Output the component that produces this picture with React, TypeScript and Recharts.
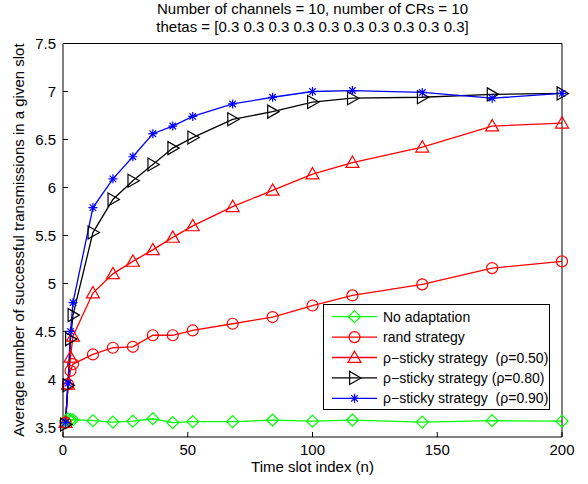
import React from 'react'
import { LineChart, Line, XAxis, YAxis, Legend } from 'recharts'

// Time slot indices shared by every series.
const slots = [1, 2, 3, 4, 12, 20, 28, 36, 44, 52, 68, 84, 100, 116, 144, 172, 200]

const noAdapt = [3.57, 3.59, 3.58, 3.58, 3.57, 3.555, 3.565, 3.59, 3.55, 3.56, 3.56, 3.575, 3.565, 3.575, 3.555, 3.57, 3.565]
const randStrat = [3.55, 3.95, 4.09, 4.16, 4.26, 4.33, 4.34, 4.46, 4.46, 4.51, 4.58, 4.65, 4.77, 4.875, 4.99, 5.16, 5.23]
const sticky50 = [3.55, 3.95, 4.23, 4.45, 4.9, 5.1, 5.23, 5.35, 5.48, 5.6, 5.8, 5.97, 6.14, 6.26, 6.42, 6.64, 6.67]
const sticky80 = [3.53, 3.94, 4.42, 4.67, 5.53, 5.875, 6.07, 6.24, 6.41, 6.52, 6.71, 6.79, 6.89, 6.93, 6.94, 6.97, 6.98]
const sticky90 = [3.55, 3.96, 4.5, 4.8, 5.79, 6.09, 6.32, 6.56, 6.64, 6.74, 6.87, 6.94, 7.0, 7.01, 6.99, 6.93, 6.98]

const xTicks = [0, 50, 100, 150, 200]
const yTicks = [3.5, 4, 4.5, 5, 5.5, 6, 6.5, 7, 7.5]

const FONT = '"Liberation Sans", Arial, Helvetica, sans-serif'

type Shape = 'diamond' | 'circle' | 'triangle' | 'right' | 'star'

function marker(shape: Shape, cx: number, cy: number, color: string, key?: React.Key) {
  const common = { fill: 'none', stroke: color, strokeWidth: 1.2 }
  switch (shape) {
    case 'diamond': {
      const s = 6
      return <path key={key} d={`M${cx},${cy - s}L${cx + s},${cy}L${cx},${cy + s}L${cx - s},${cy}Z`} {...common} />
    }
    case 'circle':
      return <circle key={key} cx={cx} cy={cy} r={5.5} {...common} />
    case 'triangle': {
      const s = 6.5
      return <path key={key} d={`M${cx},${cy - s}L${cx + s},${cy + s * 0.75}L${cx - s},${cy + s * 0.75}Z`} {...common} />
    }
    case 'right': {
      const s = 6.5
      return <path key={key} d={`M${cx + s},${cy}L${cx - s * 0.75},${cy - s}L${cx - s * 0.75},${cy + s}Z`} {...common} />
    }
    case 'star': {
      const s = 4.5
      const d = s * 0.72
      return (
        <path
          key={key}
          d={`M${cx - s},${cy}L${cx + s},${cy}M${cx},${cy - s}L${cx},${cy + s}M${cx - d},${cy - d}L${cx + d},${cy + d}M${cx - d},${cy + d}L${cx + d},${cy - d}`}
          fill="none"
          stroke={color}
          strokeWidth={1.2}
        />
      )
    }
  }
}

type SeriesDef = { key: string; label: string; color: string; shape: Shape; values: number[] }

const SERIES: SeriesDef[] = [
  { key: 'none', label: 'No adaptation', color: '#00ff00', shape: 'diamond', values: noAdapt },
  { key: 'rand', label: 'rand strategy', color: '#ff0000', shape: 'circle', values: randStrat },
  { key: 's50', label: 'ρ\u2212sticky strategy  (ρ=0.50)', color: '#ff0000', shape: 'triangle', values: sticky50 },
  { key: 's80', label: 'ρ\u2212sticky strategy (ρ=0.80)', color: '#000000', shape: 'right', values: sticky80 },
  { key: 's90', label: 'ρ\u2212sticky strategy  (ρ=0.90)', color: '#0000ff', shape: 'star', values: sticky90 },
]

const data = slots.map((x, i) => {
  const row: Record<string, number> = { x }
  for (const s of SERIES) row[s.key] = s.values[i]
  return row
})

function LegendBox() {
  const w = 227
  const h = 106
  return (
    <svg width={w} height={h} style={{ display: 'block' }}>
      <rect x={0.5} y={0.5} width={w - 1} height={h - 1} fill="#fff" stroke="#000" strokeWidth={1} />
      {SERIES.map((s, i) => {
        const y = 12.7 + i * 20.4
        return (
          <g key={s.key}>
            <line x1={9} x2={54} y1={y} y2={y} stroke={s.color} strokeWidth={1.3} />
            {marker(s.shape, 31.5, y, s.color)}
            <text
              x={60} y={y} dominantBaseline="central" fontSize={14} fontFamily={FONT} fill="#000"
              style={{ whiteSpace: 'pre' }}
            >
              {s.label}
            </text>
          </g>
        )
      })}
    </svg>
  )
}

export default function App() {
  return (
    <div style={{ position: 'absolute', left: 0, top: 0, width: 588, height: 484, background: '#fff', fontFamily: FONT }}>
      <div style={{ position: 'absolute', left: 63, width: 499, top: 0, textAlign: 'center', fontSize: 15, lineHeight: '17.5px', color: '#000' }}>
        <div>Number of channels = 10, number of CRs = 10</div>
        <div>thetas = [0.3 0.3 0.3 0.3 0.3 0.3 0.3 0.3 0.3 0.3]</div>
      </div>
      <div style={{ position: 'absolute', left: 63, width: 499, top: 458, textAlign: 'center', fontSize: 15, color: '#000' }}>
        Time slot index (n)
      </div>
      <div style={{ position: 'absolute', left: 18, top: 240, width: 0, height: 0 }}>
        <div
          style={{
            position: 'absolute', left: 0, top: 0, transform: 'translate(-50%, -50%) rotate(-90deg)',
            whiteSpace: 'nowrap', fontSize: 15, color: '#000',
          }}
        >
          Average number of successful transmissions in a given slot
        </div>
      </div>
      <div style={{ position: 'absolute', left: 0, top: 0 }}>
        <LineChart width={588} height={484} data={data} margin={{ top: 42.5, right: 25, bottom: 17, left: 23 }}>
          <XAxis
            xAxisId="b" dataKey="x" type="number" domain={[0, 200]} ticks={xTicks} height={30}
            tickSize={-5} tickMargin={12} stroke="#000" tickLine={{ stroke: '#000' }}
            tick={{ fill: '#000', fontSize: 15, fontFamily: FONT }}
          />
          <XAxis
            xAxisId="t" dataKey="x" type="number" domain={[0, 200]} ticks={xTicks} height={1}
            orientation="top" tickSize={-5} tick={false} stroke="#000" tickLine={{ stroke: '#000' }}
          />
          <YAxis
            yAxisId="l" type="number" domain={[3.4, 7.5]} ticks={yTicks} width={40} allowDataOverflow
            tickSize={-5} tickMargin={12} stroke="#000" tickLine={{ stroke: '#000' }}
            tick={{ fill: '#000', fontSize: 15, fontFamily: FONT }}
          />
          <YAxis
            yAxisId="r" type="number" domain={[3.4, 7.5]} ticks={yTicks} width={1} allowDataOverflow
            orientation="right" tickSize={-5} tick={false} stroke="#000" tickLine={{ stroke: '#000' }}
          />
          <Legend
            layout="vertical" align="center" verticalAlign="middle"
            wrapperStyle={{ left: 323, top: 304, width: 227, height: 106 }}
            content={() => <LegendBox />}
          />
          <Line
            xAxisId="t" yAxisId="r" dataKey="none" stroke="none" dot={false} activeDot={false}
            isAnimationActive={false} legendType="none"
          />
          {SERIES.map(s => (
            <Line
              key={s.key}
              xAxisId="b"
              yAxisId="l"
              dataKey={s.key}
              type="linear"
              stroke={s.color}
              strokeWidth={1.3}
              isAnimationActive={false}
              activeDot={false}
              dot={(p: any) => (p.cx == null ? <g key={p.index} /> : marker(s.shape, p.cx, p.cy, s.color, p.index))}
            />
          ))}
        </LineChart>
      </div>
    </div>
  )
}
